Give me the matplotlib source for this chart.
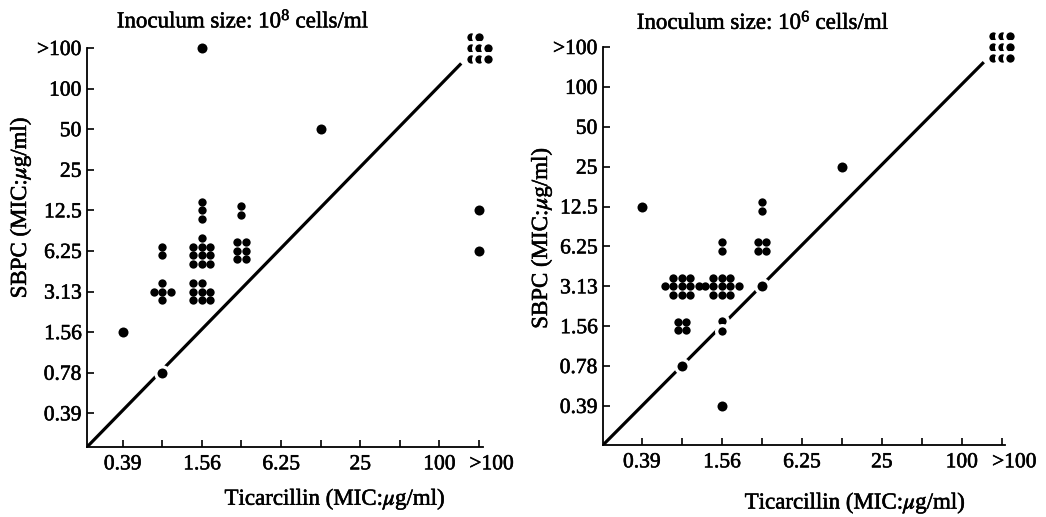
import matplotlib
matplotlib.use("Agg")
import matplotlib.pyplot as plt
import matplotlib.patheffects as pe
from matplotlib.transforms import offset_copy, ScaledTranslation

plt.rcParams['font.family'] = ['Liberation Serif', 'DejaVu Serif']
plt.rcParams['mathtext.fontset'] = 'stix'
plt.rcParams['mathtext.default'] = 'regular'

# ---------------- data ----------------
levels = ['0.39', '0.78', '1.56', '3.13', '6.25', '12.5', '25', '50', '100', '>100']
x_tick_labels = ['0.39', '', '1.56', '', '6.25', '', '25', '', '100', '>100']
y_tick_labels = levels

titles = ['Inoculum size: 10$^{8}$ cells/ml', 'Inoculum size: 10$^{6}$ cells/ml']
x_label = 'Ticarcillin (MIC:$\\mathit{\\mu}$g/ml)'
y_label = 'SBPC (MIC:$\\mathit{\\mu}$g/ml)'

# panel 1: inoculum 10^8
p1_tic = ['0.39', '0.78', '0.78', '0.78', '1.56', '1.56', '1.56', '1.56', '3.13', '3.13', '12.5', '>100', '>100', '>100']
p1_sbpc = ['1.56', '0.78', '6.25', '3.13', '>100', '12.5', '6.25', '3.13', '12.5', '6.25', '50', '>100', '12.5', '6.25']
p1_count = [1, 1, 2, 5, 1, 3, 10, 8, 2, 6, 1, 8, 1, 1]
p1_shape = ['x', 'x', 'x|x', '.x.|xxx|.x.', 'x', 'x|x|x', '.x.|xxx|xxx|xxx', 'xx.|xxx|xxx',
            'x|x', 'xx|xx|xx', 'x', 'xx.|xxx|xxx', 'x', 'x']

# panel 2: inoculum 10^6
p2_tic = ['0.39', '0.78', '0.78', '0.78', '1.56', '1.56', '1.56', '1.56', '3.13', '3.13', '3.13', '12.5', '>100']
p2_sbpc = ['12.5', '0.78', '3.13', '1.56', '6.25', '3.13', '1.56', '0.39', '12.5', '6.25', '3.13', '25', '>100']
p2_count = [1, 1, 11, 4, 2, 11, 2, 1, 2, 4, 1, 1, 9]
p2_shape = ['x', 'x', '.xxx.|xxxxx|.xxx.', 'xx|xx', 'x|x', '.xxx.|xxxxx|.xxx.', 'x|x', 'x',
            'x|x', 'xx|xx', 'x', 'x', 'xxx|xxx|xxx']

panels = [(p1_tic, p1_sbpc, p1_count, p1_shape), (p2_tic, p2_sbpc, p2_count, p2_shape)]

# ---------------- layout ----------------
W, H = 1046, 517
fig = plt.figure(figsize=(W / 100, H / 100), dpi=100)
ink = [pe.withStroke(linewidth=0.4, foreground='black')]

# axes boxes in pixels: (left, bottom, right, top)
boxes = [(87, 447, 483, 48), (603, 445, 1005, 47)]
xlims = [(0.1, 10.1), (0.03, 10.08)]
ylims = [(0.17, 10.0), (0.02, 10.0)]
title_pos = [(0.394, 1.068), (0.398, 1.062)]
xlabel_pos = [(0.626, -0.13), (0.627, -0.145)]
ylabel_pos = [(-0.169, 0.60), (-0.154, 0.52)]

SPACING = 6.1  # points between clustered dots
pos = {lab: i + 1 for i, lab in enumerate(levels)}

for k, (tic, sbpc, counts, shapes) in enumerate(panels):
    l, b, r, t = boxes[k]
    ax = fig.add_axes([l / W, 1 - b / H, (r - l) / W, (b - t) / H])
    ax.set_xlim(*xlims[k])
    ax.set_ylim(*ylims[k])
    for s in ('top', 'right'):
        ax.spines[s].set_visible(False)
    for s in ('left', 'bottom'):
        ax.spines[s].set_linewidth(1.3)

    ticks = list(range(1, len(levels) + 1))
    ax.set_xticks(ticks)
    ax.set_xticklabels(x_tick_labels)
    ax.set_yticks(ticks)
    ax.set_yticklabels(y_tick_labels)
    ax.tick_params(direction='in', length=5, width=1.2, labelsize=15.5, pad=6)
    ax.tick_params(axis='y', pad=4)
    for lab in ax.get_xticklabels() + ax.get_yticklabels():
        lab.set_path_effects(ink)
    # shift the '>100' x label a bit to the right, as in the print
    xl = ax.get_xticklabels()[-1]
    xl.set_transform(xl.get_transform() + ScaledTranslation(9 / 72, 0, fig.dpi_scale_trans))

    # line of equality
    x0, y0 = xlims[k][0], ylims[k][0]
    ax.plot([x0, 9.55], [y0, 9.62], color='black', lw=2.3, solid_capstyle='butt', zorder=2)

    # dots
    for tx, sy, n, shape in zip(tic, sbpc, counts, shapes):
        rows = shape.split('|')
        assert sum(r_.count('x') for r_ in rows) == n
        xv, yv = pos[tx], pos[sy]
        on_diag = (tx == sy)
        nrows = len(rows)
        ms = 7.2 if n == 1 else 6.0
        for ri, row in enumerate(rows):
            ncols = len(row)
            for ci, ch in enumerate(row):
                if ch != 'x':
                    continue
                dx = (ci - (ncols - 1) / 2) * SPACING
                dy = ((nrows - 1) / 2 - ri) * SPACING
                if on_diag:
                    dy *= 1.25
                tr = offset_copy(ax.transData, fig=fig, x=dx, y=dy, units='points')
                if on_diag:
                    ax.plot([xv], [yv], 'o', color='black', ms=ms + 2.4, mec='white', mew=2.4,
                            transform=tr, clip_on=False, zorder=3)
                else:
                    ax.plot([xv], [yv], 'o', color='black', ms=ms, mec='black', mew=0,
                            transform=tr, clip_on=False, zorder=3)

    ax.text(*title_pos[k], titles[k], transform=ax.transAxes, ha='center', va='center',
            fontsize=16.5, path_effects=ink)
    ax.text(*xlabel_pos[k], x_label, transform=ax.transAxes, ha='center', va='center',
            fontsize=16.5, path_effects=ink)
    ax.text(*ylabel_pos[k], y_label, transform=ax.transAxes, ha='center', va='center',
            fontsize=16.5, rotation=90, path_effects=ink)

fig.savefig('out.png', dpi=100)
